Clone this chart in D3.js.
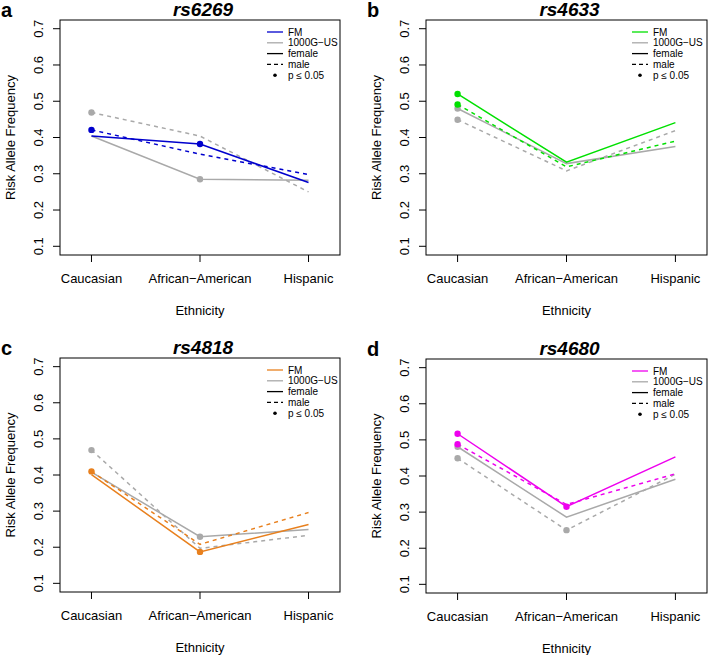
<!DOCTYPE html>
<html>
<head>
<meta charset="utf-8">
<script src="https://cdn.jsdelivr.net/npm/d3@7"></script>
<style>
  body { margin: 0; background: #fff; }
  svg { font-family: "Liberation Sans", Arial, Helvetica, sans-serif; }
</style>
</head>
<body>
<svg id="chart" width="708" height="655"></svg>
<script>
// values
var ethnicities = ["Caucasian", "African\u2212American", "Hispanic"];
var snps = ["rs6269", "rs4633", "rs4818", "rs4680"];
var panelLetters = ["a", "b", "c", "d"];
var yTicks = [0.1, 0.2, 0.3, 0.4, 0.5, 0.6, 0.7];
var legendLabels = ["FM", "1000G\u2212US", "female", "male", "p \u2264 0.05"];

var fmFemale = [[0.404, 0.382, 0.276], [0.520, 0.332, 0.441], [0.401, 0.187, 0.263], [0.517, 0.315, 0.453]];
var fmMale   = [[0.421, 0.354, 0.298], [0.491, 0.319, 0.390], [0.410, 0.208, 0.296], [0.488, 0.321, 0.406]];
var usFemale = [[0.404, 0.285, 0.282], [0.480, 0.328, 0.375], [0.408, 0.229, 0.249], [0.481, 0.286, 0.391]];
var usMale   = [[0.469, 0.404, 0.250], [0.449, 0.308, 0.419], [0.469, 0.197, 0.233], [0.449, 0.250, 0.405]];

// p <= 0.05 markers
var fmFemaleSig = [[0, 1, 0], [1, 0, 0], [0, 1, 0], [1, 1, 0]];
var fmMaleSig   = [[1, 0, 0], [1, 0, 0], [1, 0, 0], [1, 0, 0]];
var usFemaleSig = [[0, 1, 0], [1, 0, 0], [0, 1, 0], [1, 0, 0]];
var usMaleSig   = [[1, 0, 0], [1, 0, 0], [1, 0, 0], [1, 1, 0]];

var fmColors = ["#0000cd", "#00e000", "#e8801e", "#ee00ee"];
var grey = "#a9a9a9";

var boxes = [
	{x0: 60, x1: 340, y0: 20, y1: 255, lx: 267},
	{x0: 426, x1: 707, y0: 20, y1: 255, lx: 632},
	{x0: 60, x1: 340, y0: 358, y1: 592, lx: 267},
	{x0: 426, x1: 707, y0: 359, y1: 593, lx: 632}
];

var svg = d3.select("#chart");

function renderPanel(k, box) {
	var g = svg.append("g");

	var x = d3.scaleLinear().domain([0.71, 3.29]).range([box.x0, box.x1]);
	var y = d3.scaleLinear().domain([0.076, 0.724]).range([box.y1, box.y0]);

	g.append("rect")
	.attr("x", box.x0).attr("y", box.y0)
	.attr("width", box.x1 - box.x0).attr("height", box.y1 - box.y0)
	.attr("fill", "none").attr("stroke", "#000").attr("stroke-width", 1);

	// y axis
	g.selectAll(".ytick").data(yTicks).enter().append("line")
	.attr("x1", box.x0 - 7).attr("x2", box.x0)
	.attr("y1", function(d) { return y(d); })
	.attr("y2", function(d) { return y(d); })
	.attr("stroke", "#000");

	g.selectAll(".ylab").data(yTicks).enter().append("text")
	.attr("transform", function(d) { return "translate(" + (box.x0 - 22) + "," + y(d) + ") rotate(-90)"; })
	.attr("text-anchor", "middle")
	.attr("dy", "0.35em")
	.attr("font-size", 13)
	.text(function(d) { return d.toFixed(1); });

	// x axis
	g.selectAll(".xtick").data(ethnicities).enter().append("line")
	.attr("x1", function(d, i) { return x(i + 1); })
	.attr("x2", function(d, i) { return x(i + 1); })
	.attr("y1", box.y1).attr("y2", box.y1 + 7)
	.attr("stroke", "#000");

	g.selectAll(".xlab").data(ethnicities).enter().append("text")
	.attr("x", function(d, i) { return x(i + 1); })
	.attr("y", box.y1 + 23)
	.attr("dy", "0.35em")
	.attr("text-anchor", "middle")
	.attr("font-size", 13)
	.text(function(d) { return d; });

	g.append("text")
	.attr("x", (box.x0 + box.x1) / 2).attr("y", box.y1 + 55)
	.attr("dy", "0.35em")
	.attr("text-anchor", "middle")
	.attr("font-size", 13)
	.text("Ethnicity");

	g.append("text")
	.attr("transform", "translate(" + (box.x0 - 50) + "," + ((box.y0 + box.y1) / 2) + ") rotate(-90)")
	.attr("text-anchor", "middle")
	.attr("dy", "0.35em")
	.attr("font-size", 13)
	.text("Risk Allele Frequency");

	g.append("text")
	.attr("x", (box.x0 + box.x1) / 2 + 3).attr("y", box.y0 - 4)
	.attr("text-anchor", "middle")
	.attr("font-size", 19)
	.attr("font-weight", "bold")
	.attr("font-style", "italic")
	.text(snps[k]);

	g.append("text")
	.attr("x", box.x0 - 59).attr("y", box.y0 - 3)
	.attr("font-size", 20)
	.attr("font-weight", "bold")
	.text(panelLetters[k]);

	// series: grey first, coloured on top
	var series = [
		{vals: usFemale[k], sig: usFemaleSig[k], color: grey, dash: null},
		{vals: usMale[k], sig: usMaleSig[k], color: grey, dash: "4,4"},
		{vals: fmFemale[k], sig: fmFemaleSig[k], color: fmColors[k], dash: null},
		{vals: fmMale[k], sig: fmMaleSig[k], color: fmColors[k], dash: "4,4"}
	];

	var line = d3.line()
	.x(function(d, i) { return x(i + 1); })
	.y(function(d) { return y(d); });

	series.forEach(function(s) {
		g.append("path")
		.attr("d", line(s.vals))
		.attr("fill", "none")
		.attr("stroke", s.color)
		.attr("stroke-width", 1.5)
		.attr("stroke-dasharray", s.dash);
	});

	series.forEach(function(s) {
		var pts = s.vals.map(function(v, i) { return {v: v, i: i}; })
		.filter(function(p) { return s.sig[p.i]; });

		g.selectAll(null).data(pts).enter().append("circle")
		.attr("cx", function(p) { return x(p.i + 1); })
		.attr("cy", function(p) { return y(p.v); })
		.attr("r", 3.2)
		.attr("fill", s.color);
	});

	// legend
	var ly = box.y0 + 12;
	var legend = g.selectAll(".leg").data(legendLabels).enter().append("g")
	.attr("transform", function(d, i) { return "translate(" + box.lx + "," + (ly + i * 10.8) + ")"; });

	legend.append("text")
	.attr("x", 21).attr("dy", "0.35em")
	.attr("font-size", 10)
	.text(function(d) { return d; });

	var legColors = [fmColors[k], grey, "#000", "#000"];
	legend.filter(function(d, i) { return i < 4; }).append("line")
	.attr("x1", 0).attr("x2", 16)
	.attr("stroke", function(d, i) { return legColors[i]; })
	.attr("stroke-width", 1.3)
	.attr("stroke-dasharray", function(d, i) { return i == 3 ? "4,3" : null; });

	legend.filter(function(d, i) { return i == 4; }).append("circle")
	.attr("cx", 8).attr("r", 1.8).attr("fill", "#000");
}

boxes.forEach(function(b, k) { renderPanel(k, b); });
</script>
</body>
</html>
